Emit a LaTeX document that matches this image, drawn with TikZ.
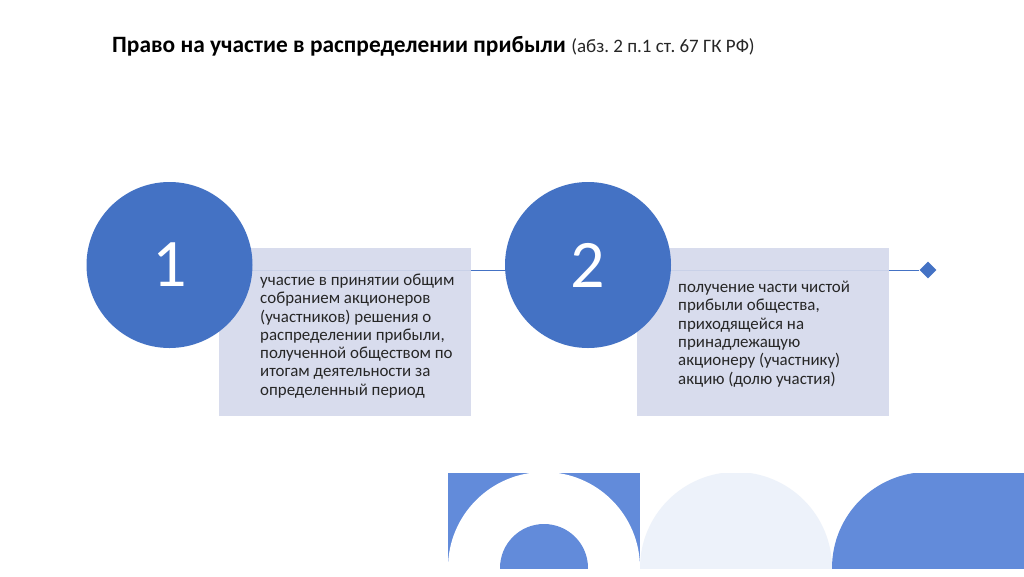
\documentclass[tikz,border=0pt]{standalone}
\usepackage{fontspec}
\setmainfont{Carlito}
\usetikzlibrary{shapes.geometric}
\definecolor{cblue}{RGB}{68,114,196}
\definecolor{boxc}{RGB}{213,218,236}
\definecolor{bandblue}{RGB}{98,139,218}
\definecolor{pale}{RGB}{237,242,250}
\definecolor{txt}{RGB}{38,38,38}
\frenchspacing
\begin{document}
\begin{tikzpicture}[x=1pt,y=-1pt,
  numcircle/.style={circle, fill=cblue, minimum size=166pt, inner sep=0pt, text=white, font=\fontsize{68}{72}\selectfont},
  infobox/.style={rectangle, fill=boxc, fill opacity=0.92, minimum width=252pt, minimum height=168pt, inner sep=0pt},
  infotext/.style={anchor=west, align=left, text=txt, font=\fontsize{16.9}{18.3}\selectfont, inner sep=0pt},
  conn/.style={draw=cblue, line width=1pt},
  endmark/.style={diamond, fill=cblue, minimum size=17pt, inner sep=0pt}]
\useasboundingbox (0,0) rectangle (1024,576);
\fill[white] (0,0) rectangle (1024,576);
% title
\node[anchor=base west, inner sep=0pt] (title) at (112,52)
  {\fontsize{23.4}{26}\selectfont\bfseries Право на участие в распределении прибыли \fontsize{19}{22}\selectfont\mdseries\color{txt}(абз. 2 п.1 ст. 67 ГК РФ)};
% connector line with end marker
\coordinate (ls) at (219,270);
\node[endmark] (d) at (928,270) {};
\draw[conn] (ls) -- (d);
% boxes
\node[infobox] (b1) at (345,332) {};
\node[infobox] (b2) at (763,332) {};
% circles
\node[numcircle] (c1) at (169.5,265) {1};
\node[numcircle] (c2) at (588,265) {2};
% texts
\node[infotext] (t1) at (260,336) {участие в принятии общим\\собранием акционеров\\(участников) решения о\\распределении прибыли,\\полученной обществом по\\итогам деятельности за\\определенный период};
\node[infotext] (t2) at (678,334) {получение части чистой\\прибыли общества,\\приходящейся на\\принадлежащую\\акционеру (участнику)\\акцию (долю участия)};
% bottom band
\begin{scope}
  \clip (448,473) rectangle (1024,568);
  \fill[bandblue] (448,473) rectangle (640,568);
  \fill[white] (544,568) circle[radius=96];
  \fill[bandblue] (544,568) circle[radius=44];
  \fill[pale] (736,568) circle[radius=96];
  \fill[bandblue] (928,568) circle[radius=96];
  \fill[bandblue] (928,473) rectangle (1024,568);
\end{scope}
\end{tikzpicture}
\end{document}
